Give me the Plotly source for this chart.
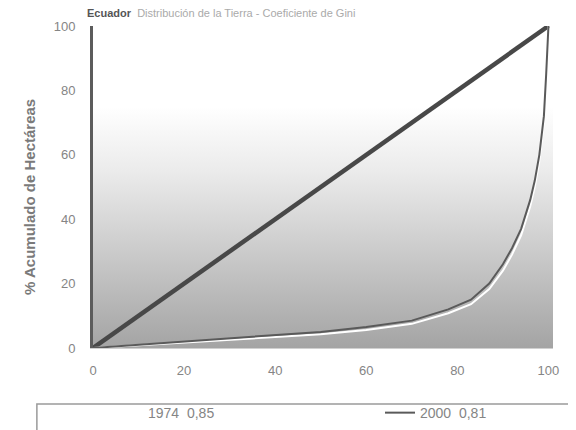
import plotly.graph_objects as go

# Lorenz curves: cumulative % of landholders (x) vs cumulative % of hectares (y)
pct_holders = [0, 10, 20, 30, 40, 50, 60, 70, 78, 83, 87, 90, 92, 94, 96, 97, 98, 99, 99.5, 100]
hect_2000 = [0, 1, 2, 3, 4, 5, 6.5, 8.5, 12, 15, 20, 26, 31, 37, 46, 52, 60, 72, 85, 100]
hect_1974 = [0, 0.8, 1.6, 2.5, 3.4, 4.3, 5.6, 7.5, 10.8, 13.6, 18.3, 24, 29, 35, 44, 50, 58, 70, 84, 100]
equality = [0, 100]

tick_vals = [0, 20, 40, 60, 80, 100]
x_range = [0, 101]
y_range = [0, 100]

grey_text = "#858585"

fig = go.Figure()

# shaded plot background (white at top, grey at bottom)
fig.add_trace(go.Scatter(
    x=[x_range[0], x_range[1], x_range[1], x_range[0]],
    y=[y_range[0], y_range[0], y_range[1], y_range[1]],
    fill="toself", mode="none", showlegend=False, hoverinfo="skip",
    fillgradient=dict(type="vertical",
                      colorscale=[[0, "#a4a4a4"], [0.3, "#cbcbcb"], [0.55, "#ebebeb"],
                                  [0.75, "#ffffff"], [1, "#ffffff"]]),
))

fig.add_trace(go.Scatter(x=equality, y=equality, mode="lines", showlegend=False,
                         line=dict(color="#484848", width=4.5)))
fig.add_trace(go.Scatter(x=pct_holders, y=hect_1974, mode="lines", name="1974  0,85",
                         line=dict(color="#ffffff", width=2), legend="legend"))
fig.add_trace(go.Scatter(x=pct_holders, y=hect_2000, mode="lines", name="2000  0,81",
                         line=dict(color="#5a5a5a", width=2), legend="legend2"))

# legend frame
fig.add_shape(type="rect", xref="paper", yref="paper",
              x0=-0.122, x1=1.1, y0=-0.174, y1=-0.4,
              line=dict(color="#9a9a9a", width=1.5), fillcolor="rgba(0,0,0,0)")

# title (half cut at the top edge in the scan; kept just inside here)
fig.add_annotation(xref="paper", yref="paper", x=-0.017, y=1.041, xanchor="left",
                   yanchor="middle", showarrow=False,
                   text="<b><span style='color:#555'>Ecuador</span></b>"
                        "<span style='color:#aaa'>  Distribución de la Tierra - Coeficiente de Gini</span>",
                   font=dict(family="Liberation Sans, Arial", size=11))

fig.add_annotation(xref="paper", yref="paper", x=-0.137, y=0.469, textangle=-90,
                   xanchor="center", yanchor="middle",
                   showarrow=False, text="<b>% Acumulado de Hectáreas</b>",
                   font=dict(family="Liberation Sans, Arial", size=15, color="#7a7a7a"))

leg_font = dict(size=14, color=grey_text)
fig.update_layout(
    width=576, height=430,
    margin=dict(l=85, r=31, t=18, b=90, autoexpand=False),
    paper_bgcolor="white", plot_bgcolor="white",
    font=dict(family="Liberation Sans, Arial", size=13, color=grey_text),
    showlegend=True,
    legend=dict(x=(108 - 93) / 460, y=-0.202, xanchor="left", yanchor="middle",
                font=leg_font, bgcolor="rgba(0,0,0,0)"),
    legend2=dict(x=(380 - 93) / 460, y=-0.202, xanchor="left", yanchor="middle",
                 font=leg_font, bgcolor="rgba(0,0,0,0)"),
    xaxis=dict(range=x_range, tickvals=tick_vals, showgrid=False, zeroline=False,
               showline=True, linecolor="#d0d0d0", linewidth=1, ticks="",
               ticklabelstandoff=10, automargin=False),
    yaxis=dict(range=y_range, tickvals=tick_vals, showgrid=False, zeroline=False,
               showline=True, linecolor="#5c5c5c", linewidth=3, ticks="",
               ticklabelstandoff=12, automargin=False),
)

fig.write_html("out.html")
